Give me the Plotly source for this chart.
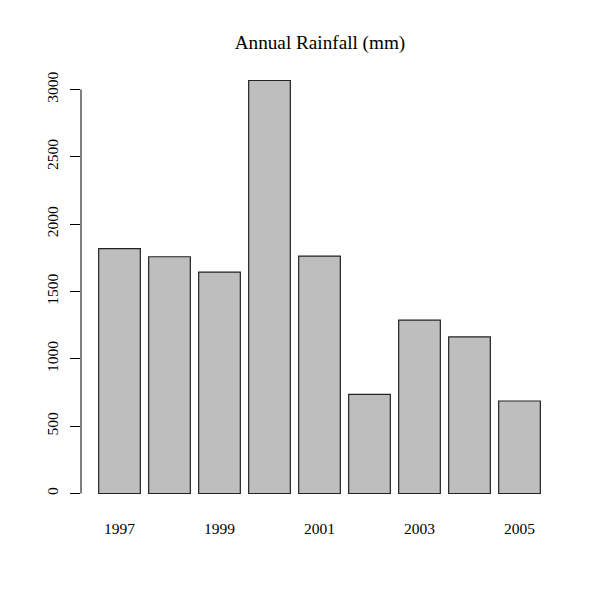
import plotly.graph_objects as go

years = [1997, 1998, 1999, 2000, 2001, 2002, 2003, 2004, 2005]
rainfall = [1819, 1758, 1644, 3067, 1763, 736, 1287, 1163, 687]
label_years = ["1997", "1999", "2001", "2003", "2005"]
y_ticks = [0, 500, 1000, 1500, 2000, 2500, 3000]

# R barplot geometry: width 1, space 0.2
centers = [0.7 + 1.2 * i for i in range(len(years))]
label_pos = [centers[i] for i in range(0, len(years), 2)]

fig = go.Figure()
fig.add_trace(go.Bar(
    x=centers, y=rainfall, width=1.0,
    marker=dict(color="#BEBEBE", line=dict(color="#222222", width=1.2)),
    hoverinfo="skip",
))

xmin, xmax = 0.2, centers[-1] + 0.5
xpad = 0.04 * (xmax - xmin)
ymax = max(rainfall)
ypad = 0.04 * ymax

font_family = "Liberation Serif, Times New Roman, serif"
off = 8  # browser default body margin

fig.update_layout(
    width=600, height=599,
    margin=dict(l=81 - off, r=42 + off, t=64 - off, b=89 + off, autoexpand=False),
    paper_bgcolor="white", plot_bgcolor="white",
    showlegend=False,
    font=dict(family=font_family, color="black", size=15.5),
    title=dict(text="Annual Rainfall (mm)", x=(320 - off) / 600, xanchor="center",
               y=1 - (42 - off) / 599, yanchor="middle",
               font=dict(size=19.2, family=font_family, color="black")),
    xaxis=dict(range=[xmin - xpad, xmax + xpad], tickvals=label_pos, ticktext=label_years,
               showline=False, showgrid=False, zeroline=False, automargin=False,
               ticks="outside", ticklen=4, tickcolor="rgba(0,0,0,0)",
               tickfont=dict(size=15.5)),
    yaxis=dict(range=[-ypad, ymax + ypad], tickvals=y_ticks, ticktext=[str(v) for v in y_ticks],
               showline=False, showgrid=False, zeroline=False, automargin=False,
               ticks="outside", ticklen=10, tickwidth=1, tickcolor="black",
               ticklabelstandoff=6,
               tickangle=-90, tickfont=dict(size=15.5)),
    shapes=[dict(type="line", xref="paper", yref="y", x0=0, x1=0, y0=0, y1=3000,
                 line=dict(color="black", width=1))],
)

fig.write_html("out.html")
